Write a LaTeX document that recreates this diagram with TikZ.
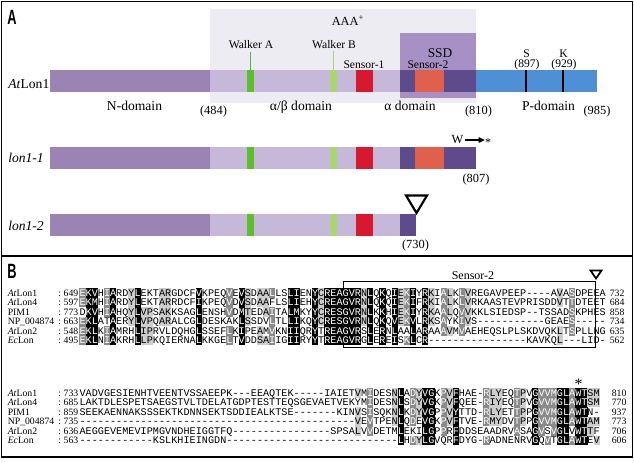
\documentclass[tikz,border=0pt]{standalone}
\usepackage{graphicx}
\usepackage{fontspec}
\setmainfont{Liberation Serif}
\newfontfamily\monofont{Liberation Mono}
\newfontfamily\sansfont{Liberation Sans}
\usetikzlibrary{arrows.meta}
\definecolor{ndom}{HTML}{9B84B4}
\definecolor{abdom}{HTML}{C5B8D8}
\definecolor{aaabg}{HTML}{EDECF2}
\definecolor{ssdbg}{HTML}{A690C4}
\definecolor{ssddark}{HTML}{5E4B8B}
\definecolor{sensB}{HTML}{E0604C}
\definecolor{sensA}{HTML}{D8182E}
\definecolor{walkA}{HTML}{5DBF2B}
\definecolor{walkB}{HTML}{AAD672}
\definecolor{pdom}{HTML}{4F8FD6}
\definecolor{shadeD}{HTML}{8A8A8A}
\definecolor{shadeL}{HTML}{CDCDCD}
\tikzset{
  aln/.style={inner sep=0pt, minimum width=4.68pt, minimum height=7.2pt,
    text height=4.5pt, text depth=0pt, font=\monofont\fontsize{7.6}{8}\selectfont},
  big/.style={inner sep=0pt, anchor=base, font=\fontsize{10.2}{12}\selectfont},
  small/.style={inner sep=0pt, anchor=base, font=\fontsize{8.7}{10}\selectfont},
  num/.style={inner sep=0pt, anchor=base, font=\fontsize{9.3}{11}\selectfont},
  nm/.style={inner sep=0pt, font=\fontsize{7.3}{8}\selectfont},
  panel/.style={inner sep=0pt, anchor=base west, font=\sansfont\bfseries\fontsize{15.5}{16}\selectfont},
  tick/.style={line width=1.3pt, black},
}
\newcommand\alncell[6]{%
  \ifcase#6\relax
    \node[aln] (#1-#4-#2) at ({79.5+(#2-0.5)*6.12},{#3+(#4-1)*9.5}) {#5};%
  \or
    \node[aln,fill=shadeL] (#1-#4-#2) at ({79.5+(#2-0.5)*6.12},{#3+(#4-1)*9.5}) {#5};%
  \or
    \node[aln,fill=shadeD,text=white] (#1-#4-#2) at ({79.5+(#2-0.5)*6.12},{#3+(#4-1)*9.5}) {#5};%
  \or
    \node[aln,fill=black,text=white] (#1-#4-#2) at ({79.5+(#2-0.5)*6.12},{#3+(#4-1)*9.5}) {#5};%
  \fi}
\ExplSyntaxOn
\int_new:N \l_aln_best_int
\int_new:N \l_aln_cnt_int
\int_new:N \l_aln_level_int
\int_new:N \l_aln_code_int
\tl_new:N \l_aln_bestgrp_tl
\tl_new:N \l_aln_ch_tl
\tl_new:N \l_aln_r_tl
\tl_new:N \l_aln_s_tl
\int_step_inline:nn {6}
  {
    \str_new:c { l_aln_row_#1_str }
    \tl_new:c { l_aln_g_#1_tl }
  }
\cs_generate_variant:Nn \str_item:Nn { c }
\cs_new:Npn \aln_group:n #1
  {
    \str_case_e:nnF {#1}
      {
        {I}{h}{L}{h}{V}{h}{M}{h}
        {F}{a}{Y}{a}{W}{a}
        {K}{b}{R}{b}
        {S}{s}{T}{s}{A}{s}
      }
      {#1}
  }
\cs_new_protected:Npn \aln_column:nnn #1#2#3
  {
    \int_step_variable:nNn {6} \l_aln_r_tl
      {
        \tl_set:cx { l_aln_g_ \l_aln_r_tl _tl }
          { \aln_group:n { \str_item:cn { l_aln_row_ \l_aln_r_tl _str } {#2} } }
      }
    \int_set:Nn \l_aln_best_int {0}
    \tl_set:Nn \l_aln_bestgrp_tl {-}
    \int_step_variable:nNn {6} \l_aln_r_tl
      {
        \str_if_eq:eeF { \use:c { l_aln_g_ \l_aln_r_tl _tl } } { - }
          {
            \int_zero:N \l_aln_cnt_int
            \int_step_variable:nNn {6} \l_aln_s_tl
              {
                \str_if_eq:eeT
                  { \use:c { l_aln_g_ \l_aln_r_tl _tl } }
                  { \use:c { l_aln_g_ \l_aln_s_tl _tl } }
                  { \int_incr:N \l_aln_cnt_int }
              }
            \int_compare:nNnT \l_aln_cnt_int > \l_aln_best_int
              {
                \int_set_eq:NN \l_aln_best_int \l_aln_cnt_int
                \tl_set:Nx \l_aln_bestgrp_tl { \use:c { l_aln_g_ \l_aln_r_tl _tl } }
              }
          }
      }
    \int_set:Nn \l_aln_level_int
      { \int_case:nnF { \l_aln_best_int } { {6}{3} {5}{2} {4}{1} } {0} }
    \int_step_variable:nNn {6} \l_aln_r_tl
      {
        \tl_set:Nx \l_aln_ch_tl { \str_item:cn { l_aln_row_ \l_aln_r_tl _str } {#2} }
        \str_if_eq:eeTF { \use:c { l_aln_g_ \l_aln_r_tl _tl } } { \l_aln_bestgrp_tl }
          { \int_set_eq:NN \l_aln_code_int \l_aln_level_int }
          { \int_zero:N \l_aln_code_int }
        \use:e
          {
            \exp_not:N \alncell {#1} {#2} {#3} { \l_aln_r_tl }
              { \exp_not:V \l_aln_ch_tl } { \int_use:N \l_aln_code_int }
          }
      }
  }
\NewDocumentCommand \alnblock { m m m m m m m m m }
  {
    \str_set:cn { l_aln_row_1_str } {#4}
    \str_set:cn { l_aln_row_2_str } {#5}
    \str_set:cn { l_aln_row_3_str } {#6}
    \str_set:cn { l_aln_row_4_str } {#7}
    \str_set:cn { l_aln_row_5_str } {#8}
    \str_set:cn { l_aln_row_6_str } {#9}
    \int_step_inline:nn {#2}
      { \aln_column:nnn {#1} {##1} {#3} }
  }
\ExplSyntaxOff
\begin{document}
\begin{tikzpicture}[x=0.75pt,y=-0.75pt]
\useasboundingbox (0,0) rectangle (634,463);
\fill[white] (0,0) rectangle (634,463);
% ---------- panel A ----------
\fill[aaabg] (210,9) rectangle (476,103);
\fill[ssdbg] (400,33) rectangle (476,98);
% AtLon1
\fill[ndom] (50,70) rectangle (210,92);
\fill[abdom] (210,70) rectangle (400,92);
\fill[walkA] (247,70) rectangle (254,92);
\fill[walkB] (330,70) rectangle (337,92);
\fill[sensA] (356,70) rectangle (373,92);
\fill[ssddark] (400,70) rectangle (476,92);
\fill[sensB] (415,70) rectangle (444,92);
\fill[pdom] (476,70) rectangle (597,92);
\draw[tick] (526,70) -- (526,92);
\draw[tick] (563,70) -- (563,92);
% lon1-1
\fill[ndom] (50,147) rectangle (210,169);
\fill[abdom] (210,147) rectangle (400,169);
\fill[walkA] (247,147) rectangle (254,169);
\fill[walkB] (330,147) rectangle (337,169);
\fill[sensA] (356,147) rectangle (373,169);
\fill[ssddark] (400,147) rectangle (476,169);
\fill[sensB] (415,147) rectangle (444,169);
% lon1-2
\fill[ndom] (50,214) rectangle (210,236);
\fill[abdom] (210,214) rectangle (400,236);
\fill[walkA] (247,214) rectangle (254,236);
\fill[walkB] (330,214) rectangle (337,236);
\fill[sensA] (356,214) rectangle (373,236);
\fill[ssddark] (400,214) rectangle (416,236);
\draw[line width=1.6pt, line join=miter] (406,195.5) -- (427,195.5) -- (416.5,213) -- cycle;
% labels A
\node[panel] (labA) at (7,25) {\scalebox{0.62}[1]{A}};
\node[big, font=\fontsize{9.3}{11}\selectfont] (aaa) at (348,26) {AAA\textsuperscript{+}};
\node[small] (wA) at (251,49) {Walker A};
\node[small] (wB) at (334,49) {Walker B};
\coordinate (wAbar) at (250.5,70);
\coordinate (wBbar) at (333.5,70);
\draw[line width=0.4pt, green!40!gray] ([yshift=-2pt]wA.south -| wAbar) -- (wAbar);
\draw[line width=0.4pt, walkB] ([yshift=-1pt]wB.south -| wBbar) -- (wBbar);
\node[big, font=\fontsize{10}{12}\selectfont] (ssd) at (440,58) {SSD};
\node[small] (s1) at (364,69) {Sensor-1};
\node[small] (s2) at (428,69) {Sensor-2};
\node[small] (sS) at (526.5,58) {S};
\node[small] (sK) at (563.5,58) {K};
\node[small] (n897) at (527,68) {(897)};
\node[small] (n929) at (564,68) {(929)};
\node[big, anchor=base west] (atlon) at (8,88.5) {\textit{At}Lon1};
\node[big] (ndl) at (134.5,111) {N-domain};
\node[num] (n484) at (213.5,114.5) {(484)};
\node[big] (abl) at (301,111) {α/β domain};
\node[big] (al) at (410,111) {α domain};
\node[num] (n810) at (478.5,114.5) {(810)};
\node[big] (pl) at (548.5,111) {P-domain};
\node[num] (n985) at (597,114.5) {(985)};
\node[big, anchor=base west] (l11) at (8,163) {\textit{lon1-1}};
\node[big, anchor=base west] (l12) at (8,230) {\textit{lon1-2}};
\node[big, font=\fontsize{9.3}{11}\selectfont] (W) at (457.5,144) {W};
\node[big, font=\fontsize{9}{11}\selectfont] (star) at (488,146.5) {*};
\draw[line width=0.8pt, -{Triangle[length=4.5pt,width=4.2pt]}] ([xshift=0.8pt]W.east) -- (W.east -| star.west);
\node[num] (n807) at (476,183) {(807)};
\node[num] (n730) at (415.5,248) {(730)};
% frame
\draw[line width=1.1pt] (1.5,1.5) rectangle (632.5,457);
\draw[line width=1.1pt] (1.5,256) -- (632.5,256);
% ---------- panel B ----------
\node[panel] (labB) at (7,278) {\scalebox{0.62}[1]{B}};
\node[small, font=\fontsize{9}{11}\selectfont] (s2b) at (473,279) {Sensor-2};
\draw[line width=1.3pt, line join=miter] (590.5,270.5) -- (601.5,270.5) -- (596,278.5) -- cycle;
\draw[line width=0.6pt] (343.5,281.5) rectangle (595.5,347);
\alnblock{a}{86}{293}%
 {EKVHIARDYLEKTARGDCFVKPEQVEVSDAALLSLIENYCREAGVRNLQKQIEKIYRKIALKLVREGAVPEEP----AVASDPEEA}%
 {EKMHIARDYLEKTARRDCFIKPEQVDVSDAAFLSLIEHYCREAGVRNLQKQIEKIFRKIALKLVRKAASTEVPRISDDVTTDTEET}%
 {DKVHIAHQYLVPSAKKSAGLENSHVDMTEDAITALMKYYCRESGVRNLKKHIEKIYRKAALQVVKKLSIEDSP--TSSADSKPHES}%
 {EKLATAERYLVPQARALCGLDESKAKLSSDVLTLLIKQYCRESGVRNLQKQVEKVLRKSAYKIVS-----------GEAES-----}%
 {EKLKIAMRHLIPRVLDQHGLSSEFLKIPEAMVKNIIQRYTREAGVRSLERNLAALARAAAVMVAEHEQSLPLSKDVQKLTSPLLNG}%
 {EKLNIAKRHLLPKQIERNALKKGELTVDDSAIIGIIRYYTREAGVRGLEREISKLCR----------------KAVKQL---LID-}
\alnblock{b}{85}{393}%
 {VADVGESIENHTVEENTVSSAEEPK---EEAQTEK-----IAIETVMIDESNLADYVGKPVFHAE-RLYEQTPVGVVMGLAWTSM}%
 {LAKTDLESPETSAEGSTVLTDELATGDPTESTTEQSGEVAETVEKYMIDESNLSDYVGKPVFQEE-RIYEQTPVGVVMGLAWTSM}%
 {SEEKAENNAKSSSEKTKDNNSEKTSDDIEALKTSE-------KINVSISQKNLKDYVGPPVYTTD-RLYETTPPGVVMGLAWTN-}%
 {---------------------------------------------VEVTPENLQDEVGKPVFTVE-RMYDVTPPGVVMGLAWTAM}%
 {AEGGEVEMEVIPMGVNDHEIGGTFQ----------------SPSALVVDETMLEKILGPPRFDDSEAADRVASAGVSVGLVWTTF}%
 {------------KSLKHIEINGDN----------------------------LHDYLGVQRFDYG-RADNENRVGQVTGLAWTEV}
\foreach \nm/\sn/\en [count=\i] in {{\textit{At}Lon1}/649/732,{\textit{At}Lon4}/597/684,{PIM1}/773/858,{NP\_004874}/663/734,{\textit{At}Lon2}/548/635,{\textit{Ec}Lon}/495/562}{
  \node[nm, anchor=base west] (na\i) at (7.5,{293+(\i-1)*9.5+3.2}) {\nm};
  \node[nm, anchor=base east] (sa\i) at (78.5,{293+(\i-1)*9.5+3.2}) {:\ \sn};
  \node[nm, anchor=base west] (ea\i) at (609.5,{293+(\i-1)*9.5+3.2}) {\en};
}
\foreach \nm/\sn/\en [count=\i] in {{\textit{At}Lon1}/733/810,{\textit{At}Lon4}/685/770,{PIM1}/859/937,{NP\_004874}/735/773,{\textit{At}Lon2}/636/706,{\textit{Ec}Lon}/563/606}{
  \node[nm, anchor=base west] (nb\i) at (7.5,{393+(\i-1)*9.5+3.2}) {\nm};
  \node[nm, anchor=base east] (sb\i) at (78.5,{393+(\i-1)*9.5+3.2}) {:\ \sn};
  \node[nm, anchor=base west] (eb\i) at (611.5,{393+(\i-1)*9.5+3.2}) {\en};
}
\node[inner sep=0pt, anchor=base, font=\fontsize{12}{12}\selectfont] (ast) at (578.5,389) {*};
\end{tikzpicture}
\end{document}
